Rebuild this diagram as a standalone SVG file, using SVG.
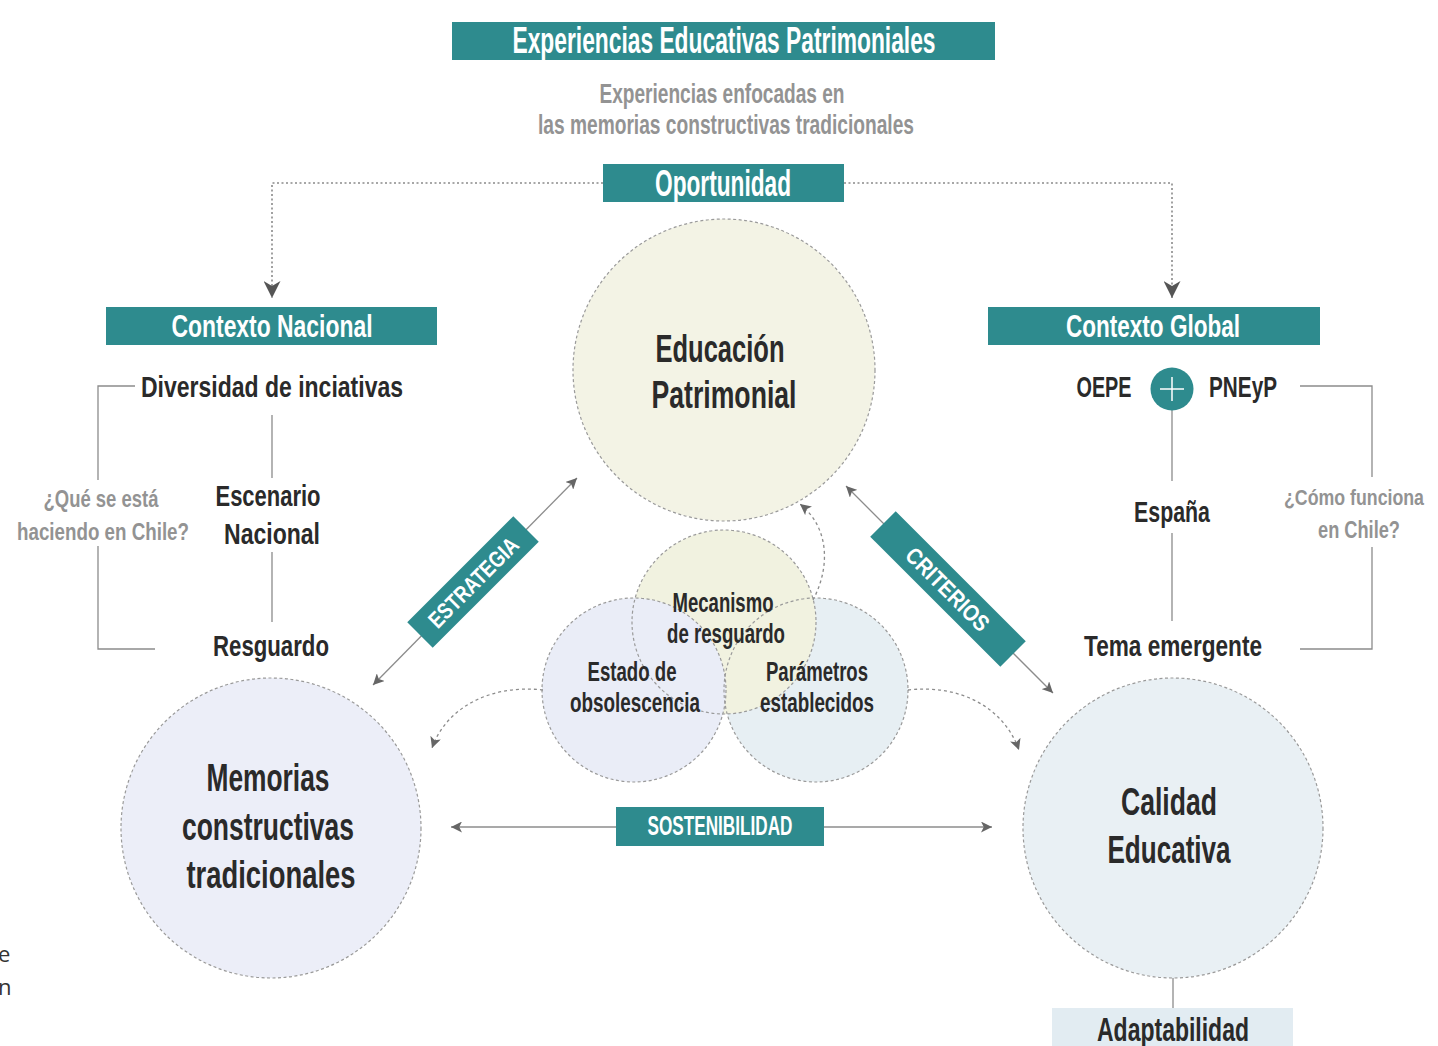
<svg xmlns="http://www.w3.org/2000/svg" width="1438" height="1046" viewBox="0 0 1438 1046">
<style>
.band{fill:#2e8b8e}
.t{font-family:"Liberation Sans Narrow","Liberation Sans","DejaVu Sans Condensed",sans-serif;font-weight:bold;text-anchor:middle}
.w{fill:#ffffff}
.d{fill:#2a2a2a}
.g{fill:#939393}
.circ{stroke:#9a9a9a;stroke-width:1.2;stroke-dasharray:3 2.5}
.dot{fill:none;stroke:#8a8a8a;stroke-width:1.6;stroke-dasharray:2 2.5}
.ln{fill:none;stroke:#8c8c8c;stroke-width:1.3}
.dash{fill:none;stroke:#8c8c8c;stroke-width:1.3;stroke-dasharray:3 3}
</style>
<defs>
<marker id="ah" viewBox="0 0 10 10" refX="10" refY="5" markerWidth="11" markerHeight="11" markerUnits="userSpaceOnUse" orient="auto-start-reverse"><path d="M0,0 L10,5 L0,10 L2.5,5 z" fill="#666"/></marker>
<marker id="big" viewBox="0 0 10 10" refX="10" refY="5" markerWidth="17" markerHeight="17" markerUnits="userSpaceOnUse" orient="auto"><path d="M0,0 L10,5 L0,10 L3,5 z" fill="#555"/></marker>
</defs>
<rect width="1438" height="1046" fill="#ffffff"/>

<!-- stray page text -->
<text x="-2" y="962" font-family="'Open Sans','Noto Sans',sans-serif" font-size="22" fill="#333">e</text>
<text x="-2" y="995" font-family="'Open Sans','Noto Sans',sans-serif" font-size="22" fill="#333">n</text>

<!-- circles -->
<g id="educacion">
<circle cx="724" cy="370" r="151" fill="#f3f3e5" class="circ"/>
<text class="t d" x="720" y="362" font-size="38" textLength="129" lengthAdjust="spacingAndGlyphs">Educación</text>
<text class="t d" x="724" y="408" font-size="38" textLength="145" lengthAdjust="spacingAndGlyphs">Patrimonial</text>
</g>
<g id="memorias">
<circle cx="271" cy="828" r="150" fill="#eceef8" class="circ"/>
<text class="t d" x="268" y="791" font-size="38" textLength="123" lengthAdjust="spacingAndGlyphs">Memorias</text>
<text class="t d" x="268" y="840" font-size="38" textLength="172" lengthAdjust="spacingAndGlyphs">constructivas</text>
<text class="t d" x="271" y="888" font-size="38" textLength="169" lengthAdjust="spacingAndGlyphs">tradicionales</text>
</g>
<g id="calidad">
<circle cx="1173" cy="828" r="150" fill="#e9f0f4" class="circ"/>
<text class="t d" x="1169" y="815" font-size="38" textLength="96" lengthAdjust="spacingAndGlyphs">Calidad</text>
<text class="t d" x="1169" y="863" font-size="38" textLength="123" lengthAdjust="spacingAndGlyphs">Educativa</text>
</g>
<g id="adaptabilidad">
<line x1="1173" y1="978" x2="1173" y2="1008" class="ln"/>
<rect x="1052" y="1008" width="241" height="40" fill="#e2ecf2"/>
<text class="t d" x="1173" y="1041" font-size="34" textLength="152" lengthAdjust="spacingAndGlyphs">Adaptabilidad</text>
</g>

<!-- venn -->
<g id="venn">
<circle cx="816" cy="690" r="92" fill="#e7eff3"/>
<circle cx="724" cy="622" r="92" fill="#f1f2e0"/>
<circle cx="634" cy="690" r="92" fill="#eaedf7"/>
<circle cx="816" cy="690" r="92" fill="none" class="circ"/>
<circle cx="724" cy="622" r="92" fill="none" class="circ"/>
<circle cx="634" cy="690" r="92" fill="none" class="circ"/>
</g>
<g id="mecanismo">
<text class="t d" x="723" y="612" font-size="27" textLength="101" lengthAdjust="spacingAndGlyphs">Mecanismo</text>
<text class="t d" x="726" y="643" font-size="27" textLength="118" lengthAdjust="spacingAndGlyphs">de resguardo</text>
</g>
<g id="estado">
<text class="t d" x="632" y="681" font-size="27" textLength="89" lengthAdjust="spacingAndGlyphs">Estado de</text>
<text class="t d" x="635" y="712" font-size="27" textLength="130" lengthAdjust="spacingAndGlyphs">obsolescencia</text>
</g>
<g id="parametros">
<text class="t d" x="817" y="681" font-size="27" textLength="102" lengthAdjust="spacingAndGlyphs">Parámetros</text>
<text class="t d" x="817" y="712" font-size="27" textLength="114" lengthAdjust="spacingAndGlyphs">establecidos</text>
</g>

<!-- connectors -->
<g id="connectors">
<path d="M603,183 H272 V298" class="dot" marker-end="url(#big)"/>
<path d="M844,183 H1172 V298" class="dot" marker-end="url(#big)"/>
<path d="M135,386 H98 V480 M98,546 V649 H155" class="ln"/>
<path d="M272,415 V478 M272,552 V622" class="ln"/>
<path d="M1300,386 H1372 V477 M1372,547 V649 H1300" class="ln"/>
<path d="M1172,410 V481 M1172,533 V621" class="ln"/>
<line x1="373" y1="685" x2="577" y2="478" class="ln" marker-start="url(#ah)" marker-end="url(#ah)"/>
<line x1="846" y1="486" x2="1053" y2="693" class="ln" marker-start="url(#ah)" marker-end="url(#ah)"/>
<line x1="451" y1="827" x2="992" y2="827" class="ln" marker-start="url(#ah)" marker-end="url(#ah)"/>
<path d="M543,690 C490,684 446,708 432,748" class="dash" marker-end="url(#ah)"/>
<path d="M908,690 C961,684 1004,708 1019,750" class="dash" marker-end="url(#ah)"/>
<path d="M813,600 C830,568 830,528 800,504" class="dash" marker-end="url(#ah)"/>
</g>

<!-- header -->
<g id="title">
<rect x="452" y="22" width="543" height="38" class="band"/>
<text class="t w" x="724" y="53" font-size="37" textLength="423" lengthAdjust="spacingAndGlyphs">Experiencias Educativas Patrimoniales</text>
</g>
<g id="subtitle">
<text class="t g" x="722" y="103" font-size="28" textLength="245" lengthAdjust="spacingAndGlyphs">Experiencias enfocadas en</text>
<text class="t g" x="726" y="134" font-size="28" textLength="376" lengthAdjust="spacingAndGlyphs">las memorias constructivas tradicionales</text>
</g>
<g id="oportunidad">
<rect x="603" y="164" width="241" height="38" class="band"/>
<text class="t w" x="723" y="196" font-size="36" textLength="136" lengthAdjust="spacingAndGlyphs">Oportunidad</text>
</g>

<!-- left context -->
<g id="contexto-nacional">
<rect x="106" y="307" width="331" height="38" class="band"/>
<text class="t w" x="272" y="337" font-size="32" textLength="201" lengthAdjust="spacingAndGlyphs">Contexto Nacional</text>
</g>
<g id="diversidad"><text class="t d" x="272" y="397" font-size="29" textLength="262" lengthAdjust="spacingAndGlyphs">Diversidad de inciativas</text></g>
<g id="escenario">
<text class="t d" x="268" y="506" font-size="29" textLength="105" lengthAdjust="spacingAndGlyphs">Escenario</text>
<text class="t d" x="272" y="544" font-size="29" textLength="96" lengthAdjust="spacingAndGlyphs">Nacional</text>
</g>
<g id="resguardo"><text class="t d" x="271" y="656" font-size="30" textLength="116" lengthAdjust="spacingAndGlyphs">Resguardo</text></g>
<g id="pregunta-chile">
<text class="t g" x="101" y="507" font-size="24" textLength="115" lengthAdjust="spacingAndGlyphs">¿Qué se está</text>
<text class="t g" x="103" y="540" font-size="24" textLength="172" lengthAdjust="spacingAndGlyphs">haciendo en Chile?</text>
</g>

<!-- right context -->
<g id="contexto-global">
<rect x="988" y="307" width="332" height="38" class="band"/>
<text class="t w" x="1153" y="337" font-size="32" textLength="174" lengthAdjust="spacingAndGlyphs">Contexto Global</text>
</g>
<g id="oepe-pneyp">
<text class="t d" x="1104" y="397" font-size="29" textLength="55" lengthAdjust="spacingAndGlyphs">OEPE</text>
<circle cx="1172" cy="389" r="21.5" class="band"/>
<path d="M1160,389 H1184 M1172,377 V401" stroke="#ffffff" stroke-width="1.5" fill="none"/>
<text class="t d" x="1243" y="397" font-size="29" textLength="68" lengthAdjust="spacingAndGlyphs">PNEyP</text>
</g>
<g id="espana"><text class="t d" x="1172" y="522" font-size="29" textLength="76" lengthAdjust="spacingAndGlyphs">España</text></g>
<g id="tema"><text class="t d" x="1173" y="656" font-size="30" textLength="178" lengthAdjust="spacingAndGlyphs">Tema emergente</text></g>
<g id="pregunta-funciona">
<text class="t g" x="1354" y="505" font-size="22" textLength="140" lengthAdjust="spacingAndGlyphs">¿Cómo funciona</text>
<text class="t g" x="1359" y="538" font-size="23" textLength="82" lengthAdjust="spacingAndGlyphs">en Chile?</text>
</g>

<!-- labelled bands -->
<g id="estrategia" transform="translate(473,582) rotate(-45)">
<rect x="-75" y="-18" width="150" height="36" class="band"/>
<text class="t w" x="0" y="8.5" font-size="23" textLength="117" lengthAdjust="spacingAndGlyphs">ESTRATEGIA</text>
</g>
<g id="criterios" transform="translate(948,589) rotate(45)">
<rect x="-92" y="-18" width="184" height="36" class="band"/>
<text class="t w" x="0" y="8.5" font-size="23" textLength="108" lengthAdjust="spacingAndGlyphs">CRITERIOS</text>
</g>
<g id="sostenibilidad">
<rect x="616" y="807" width="208" height="39" class="band"/>
<text class="t w" x="720" y="835" font-size="27" textLength="145" lengthAdjust="spacingAndGlyphs">SOSTENIBILIDAD</text>
</g>
</svg>
